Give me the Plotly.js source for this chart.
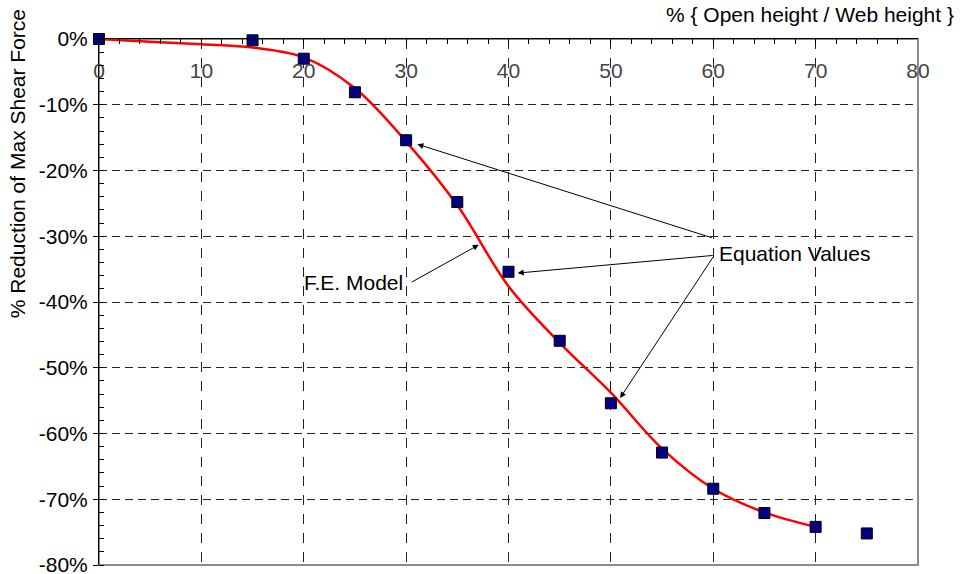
<!DOCTYPE html>
<html>
<head>
<meta charset="utf-8">
<script src="https://cdn.plot.ly/plotly-3.0.1.min.js"></script>
<style>html,body{margin:0;padding:0;background:#fff;}#chart{width:960px;height:574px;}</style>
</head>
<body>
<div id="chart"></div>
<script>
// Equation values (square markers)
const eqX = [0, 15, 20, 25, 30, 35, 40, 45, 50, 55, 60, 65, 70, 75];
const eqY = [0, -0.2, -3.0, -8.1, -15.4, -24.8, -35.4, -45.9, -55.4, -62.9, -68.4, -72.1, -74.2, -75.2];
// F.E. Model curve
const feX = [0, 5, 10, 15, 20, 25, 30, 35, 40, 45, 50, 55, 60, 65, 70];
const feY = [0, -0.4, -0.8, -1.3, -2.8, -7.5, -15.6, -25.3, -37.6, -46.2, -53.8, -62.3, -68.4, -72.0, -74.2];
const xTicks = [0, 10, 20, 30, 40, 50, 60, 70, 80];
const yTicks = [0, -10, -20, -30, -40, -50, -60, -70, -80];
const yTickText = ['0%', '-10%', '-20%', '-30%', '-40%', '-50%', '-60%', '-70%', '-80%'];

const font = "Liberation Sans, Arial, sans-serif";
const fs = 21;

const traces = [
  {
    x: feX, y: feY, type: 'scatter', mode: 'lines',
    line: {color: '#ff0000', width: 2.5, shape: 'spline', smoothing: 1},
    name: 'F.E. Model', hoverinfo: 'skip', cliponaxis: false
  },
  {
    x: eqX, y: eqY, type: 'scatter', mode: 'markers',
    marker: {symbol: 'square', size: 11, color: '#000080', line: {color: '#000000', width: 1}},
    name: 'Equation Values', cliponaxis: false
  }
];

const arrowStyle = {showarrow: true, arrowhead: 2, arrowsize: 1.2, arrowwidth: 1, arrowcolor: '#000',
  axref: 'x', ayref: 'y', xref: 'x', yref: 'y', text: '', standoff: 0};

const layout = {
  width: 960, height: 574,
  margin: {l: 99, r: 42, t: 39, b: 9},
  paper_bgcolor: '#fff', plot_bgcolor: '#fff',
  showlegend: false,
  font: {family: font, size: fs, color: '#000'},
  xaxis: {
    range: [0, 80], side: 'top', tickvals: xTicks, ticktext: xTicks.map(String),
    ticks: 'inside', ticklen: 6, tickcolor: '#000', tickwidth: 1,
    ticklabelposition: 'inside', ticklabeloverflow: 'allow', ticklabelstandoff: 20,
    showline: true, linecolor: '#000', linewidth: 1,
    showgrid: true, gridcolor: '#222', gridwidth: 1, griddash: '10px,9px',
    minor: {dtick: 2, ticks: 'inside', ticklen: 5, tickcolor: '#000', showgrid: false},
    zeroline: false, tickfont: {size: fs, family: font}
  },
  yaxis: {
    range: [-80, 0], tickvals: yTicks, ticktext: yTickText,
    ticks: 'outside', ticklen: 5, tickcolor: '#000',
    ticklabeloverflow: 'allow',
    showline: true, linecolor: '#000', linewidth: 1,
    showgrid: true, gridcolor: '#222', gridwidth: 1, griddash: '8px,5px',
    minor: {dtick: 2, ticks: 'inside', ticklen: 5, tickcolor: '#000', showgrid: false},
    zeroline: false, tickfont: {size: fs, family: font}, ticklabelstandoff: 1
  },
  shapes: [
    {type: 'rect', xref: 'paper', yref: 'paper', x0: 0, x1: 1, y0: 0, y1: 1,
     line: {color: '#8c8c8c', width: 2}, layer: 'below'}
  ],
  annotations: [
    {text: '% Reduction of Max Shear Force', xref: 'paper', yref: 'paper', x: -0.1, y: 0.762,
     textangle: -90, showarrow: false, xanchor: 'center', yanchor: 'middle', font: {size: fs}},
    {text: '% { Open height / Web height }', xref: 'paper', yref: 'paper', x: 1.046, y: 1.02,
     showarrow: false, xanchor: 'right', yanchor: 'bottom', font: {size: fs}},
    {text: 'Equation Values', xref: 'x', yref: 'y', x: 60.4, y: -32.6, showarrow: false,
     xanchor: 'left', yanchor: 'middle', font: {size: fs}},
    {text: 'F.E. Model', xref: 'x', yref: 'y', x: 29.9, y: -37.1, showarrow: false,
     xanchor: 'right', yanchor: 'middle', font: {size: fs}},
    Object.assign({}, arrowStyle, {x: 31.1, y: -16.0, ax: 60.0, ay: -30.3}),
    Object.assign({}, arrowStyle, {x: 40.9, y: -35.6, ax: 60.1, ay: -32.9}),
    Object.assign({}, arrowStyle, {x: 50.9, y: -54.6, ax: 60.1, ay: -32.9}),
    Object.assign({}, arrowStyle, {x: 37.1, y: -31.3, ax: 30.4, ay: -37.1})
  ]
};

Plotly.newPlot('chart', traces, layout, {displayModeBar: false, staticPlot: true});
</script>
</body>
</html>
